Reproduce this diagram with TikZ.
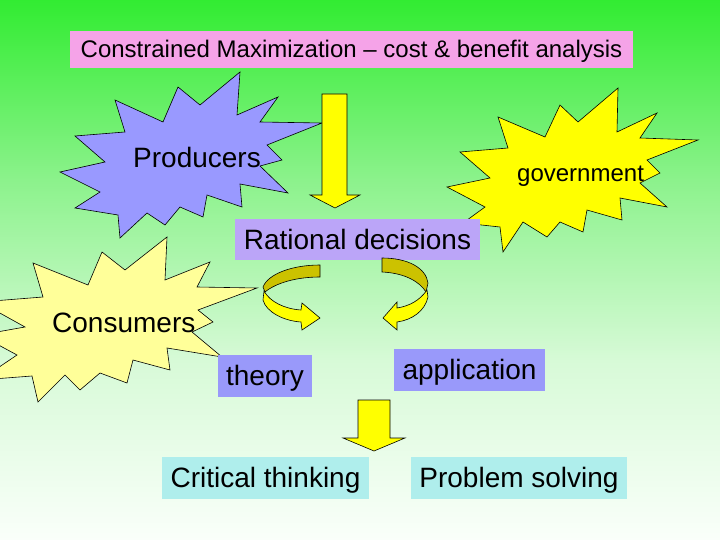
\documentclass[tikz,border=0pt]{standalone}
\usepackage{fontspec}
\setmainfont{Liberation Sans}
\definecolor{bgA}{RGB}{50,236,50}
\definecolor{bgB}{RGB}{140,242,140}
\definecolor{bgC}{RGB}{215,250,215}
\definecolor{bgD}{RGB}{250,255,250}
\definecolor{titlepink}{RGB}{245,163,232}
\definecolor{starblue}{RGB}{153,153,255}
\definecolor{staryellow}{RGB}{255,255,0}
\definecolor{starpale}{RGB}{255,255,153}
\definecolor{lilac}{RGB}{187,165,248}
\definecolor{boxblue}{RGB}{153,153,250}
\definecolor{boxcyan}{RGB}{175,238,236}
\definecolor{arrowyellow}{RGB}{255,255,0}
\definecolor{arrowdark}{RGB}{204,194,0}
\begin{document}
\begin{tikzpicture}[x=1pt,y=-1pt,
  starshape/.style={draw=black, line width=0.6pt, line join=miter},
  yarrow/.style={draw=black, line width=0.6pt, fill=arrowyellow, line join=miter},
  darrow/.style={draw=black, line width=0.6pt, fill=arrowdark, line join=miter},
  bigbox/.style={inner sep=0pt, font=\fontsize{28}{32}\selectfont, text height=21pt, text depth=2pt},
  startext/.style={inner sep=0pt, anchor=base west, font=\fontsize{28}{32}\selectfont},
]
\path[use as bounding box] (0,0) rectangle (720,540);
\begin{scope}
\clip (0,0) rectangle (720,540);
% background
\shade[top color=bgA, bottom color=bgB] (0,0) rectangle (720,181);
\shade[top color=bgB, bottom color=bgC] (0,180) rectangle (720,361);
\shade[top color=bgC, bottom color=bgD] (0,360) rectangle (720,540);

% Producers star
\draw[starshape, fill=starblue] (240,72) -- (237,115) -- (278,97) -- (260,122) -- (322,123) -- (267,145) -- (282,160) -- (260,166) -- (288,193) -- (240,184) -- (242,207) -- (207,195) -- (203,217) -- (180,207) -- (165,225) -- (147,213) -- (120,238) -- (118,215) -- (75,208) -- (100,192) -- (60,172) -- (105,162) -- (75,136) -- (125,132) -- (115,100) -- (163,122) -- (178,87) -- (200,105) -- cycle;

% government star
\draw[starshape, fill=staryellow] (618,88) -- (617,132) -- (657,113) -- (640,138) -- (698,140) -- (647,160) -- (660,173) -- (640,183) -- (667,207) -- (620,198) -- (622,220) -- (587,210) -- (583,232) -- (560,222) -- (547,237) -- (523,222) -- (503,252) -- (500,227) -- (463,223) -- (485,207) -- (447,187) -- (490,178) -- (460,152) -- (508,148) -- (498,117) -- (545,137) -- (560,105) -- (578,122) -- cycle;

% Consumers star
\draw[starshape, fill=starpale] (167,237) -- (165,280) -- (210,262) -- (197,287) -- (257,288) -- (198,310) -- (213,322) -- (192,332) -- (222,357) -- (167,348) -- (170,370) -- (133,360) -- (127,383) -- (100,373) -- (80,390) -- (65,375) -- (38,402) -- (32,376) -- (-20,380) -- (17,355) -- (-20,335) -- (25,327) -- (-20,302) -- (43,297) -- (33,263) -- (88,285) -- (102,252) -- (125,270) -- cycle;

% first down arrow
\draw[yarrow] (322,94) -- (347,94) -- (347,195) -- (360,195) -- (335,208) -- (310,195) -- (322,195) -- cycle;

% boxes
\node[bigbox, fill=titlepink, minimum width=563pt, minimum height=37pt, font=\fontsize{24}{28}\selectfont, text height=18pt, text depth=1pt] (title) at (351.5,49.5) {Constrained Maximization – cost \& benefit analysis};
\node[bigbox, fill=lilac, minimum width=245pt, minimum height=41pt] (rational) at (357.5,239.5) {Rational decisions};
\node[bigbox, fill=boxblue, minimum width=94pt, minimum height=42pt] (theory) at (265,376) {theory};
\node[bigbox, fill=boxblue, minimum width=151pt, minimum height=42pt] (application) at (469.5,370) {application};
\node[bigbox, fill=boxcyan, minimum width=207pt, minimum height=42pt] (critical) at (265.5,478) {Critical thinking};
\node[bigbox, fill=boxcyan, minimum width=216pt, minimum height=42pt] (problem) at (519,478) {Problem solving};

% left curved arrow
\draw[darrow] (320,265) .. controls (292,265) and (268,274) .. (263,287) -- (265,292) .. controls (276,283) and (296,277) .. (320,277) -- cycle;
\draw[yarrow] (264,291) -- (263,300) .. controls (266,312) and (284,321) .. (301,322) -- (302,330) -- (320,318) -- (302,303) -- (301,310) .. controls (285,309) and (270,302) .. (264,291) -- cycle;

% right curved arrow
\draw[darrow] (382,258) .. controls (408,258) and (426,268) .. (428,283) -- (426,292) .. controls (420,282) and (405,273) .. (382,272) -- cycle;
\draw[yarrow] (427,290) -- (428,297) .. controls (425,311) and (412,320) .. (397,322) -- (397,330) -- (383,318) -- (397,302) -- (397,308) .. controls (410,306) and (420,300) .. (427,290) -- cycle;

% second down arrow
\draw[yarrow] (358,400) -- (390,400) -- (390,438) -- (405,438) -- (374,451) -- (343,438) -- (358,438) -- cycle;

% star labels
\node[startext] (producers) at (133,168) {Producers};
\node[startext, font=\fontsize{24}{28}\selectfont] (government) at (517,182) {government};
\node[startext] (consumers) at (52,332) {Consumers};
\end{scope}
\end{tikzpicture}
\end{document}
